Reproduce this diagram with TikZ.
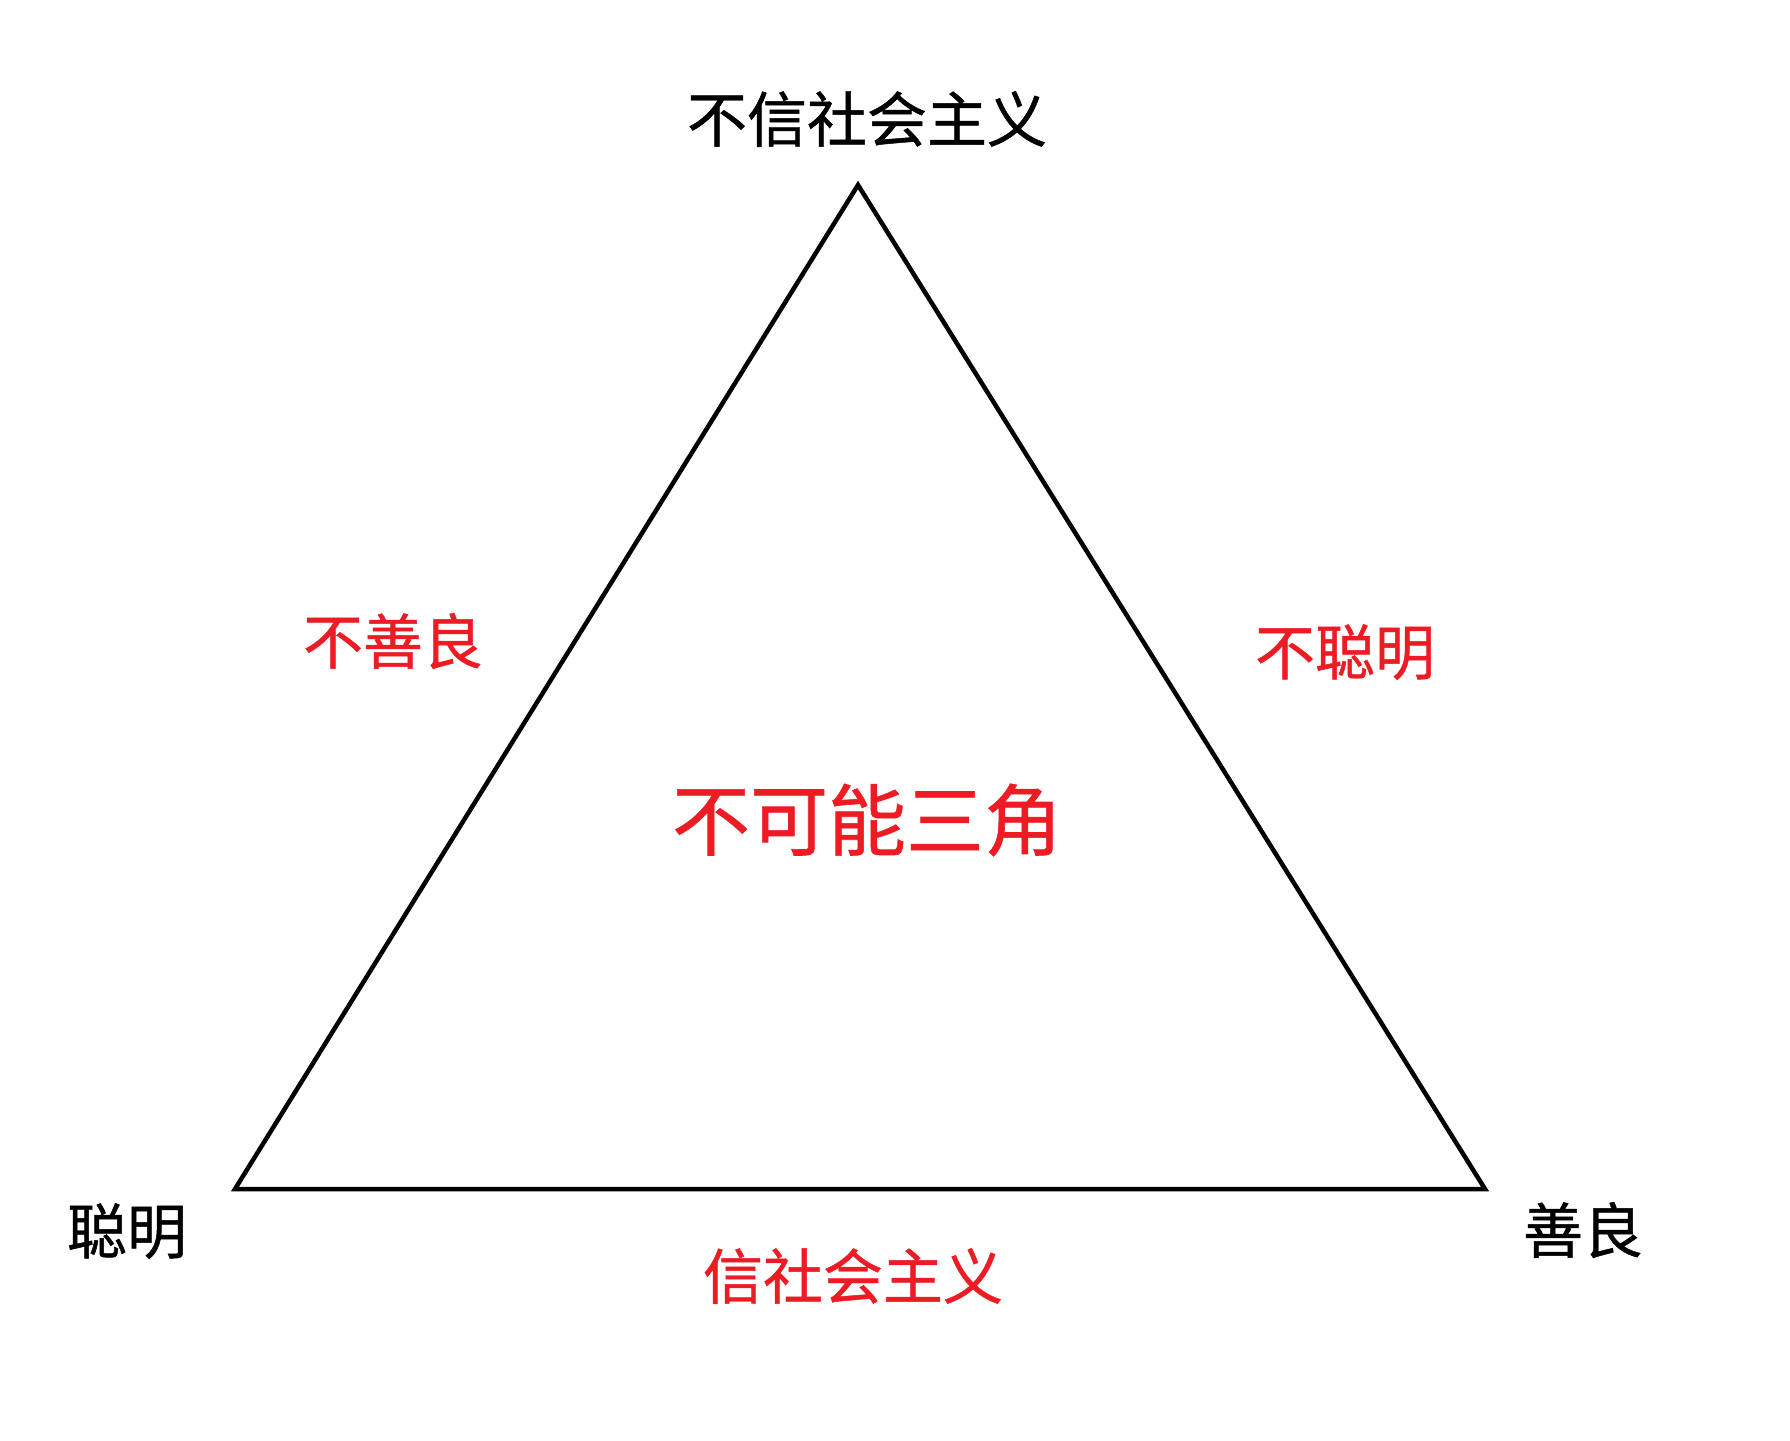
\documentclass[tikz,border=0pt]{standalone}
\usepackage{fontspec}
\setmainfont{Noto Sans CJK SC}[FakeBold=0.8]
\usepackage{xcolor}
\usetikzlibrary{positioning}
\definecolor{paintred}{RGB}{237,28,36}
\tikzset{%
	corner/.style = {inner sep=0pt, font=\fontsize{60}{60}\selectfont, text=black},
	sidelabel/.style = {inner sep=0pt, font=\fontsize{60}{60}\selectfont, text=paintred},
	centrelabel/.style = {inner sep=0pt, font=\fontsize{78}{78}\selectfont, text=paintred},
	edge/.style = {line width=4.5pt, line join=miter, draw=black},
}

\begin{document}
\begin{tikzpicture}[x=1pt,y=-1pt]
	\useasboundingbox (0,0) rectangle (1790,1440);  % canvas
	
	\coordinate (top) at (858,185);
	\coordinate (left) at (235,1189);
	\coordinate (right) at (1485,1189);
	\draw[edge] (top) -- (left) -- (right) -- cycle;  % triangle
	
	\node[corner] (nosocialism) at (867,119) {不信社会主义};
	\node[corner] (clever) at (127,1231) {聪明};
	\node[corner] (kind) at (1583,1230) {善良};
	
	\node[sidelabel] (notkind) at (393,641) {不善良};
	\node[sidelabel] (notclever) at (1345,652) {不聪明};
	\node[sidelabel] (socialism) at (853,1276) {信社会主义};
	
	\node[centrelabel] (impossible) at (867,820) {不可能三角};
\end{tikzpicture}
\end{document}
